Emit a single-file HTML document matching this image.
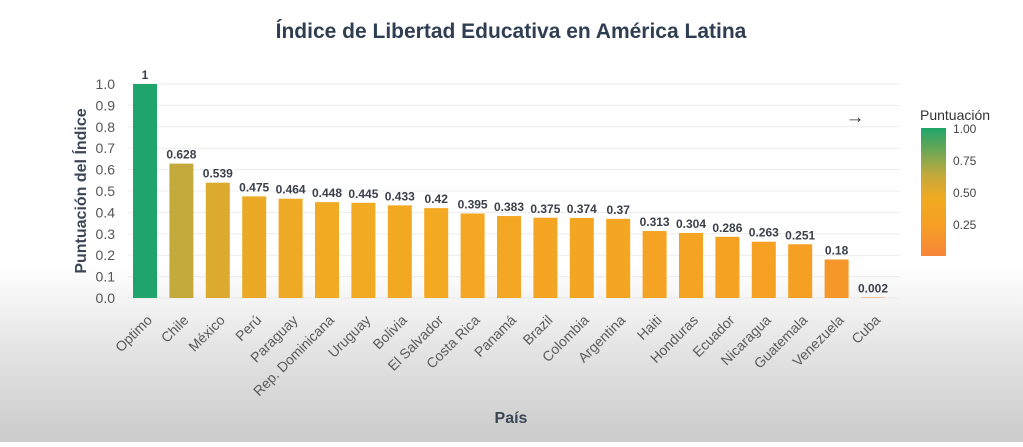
<!DOCTYPE html><html><head><meta charset="utf-8"><style>
body{margin:0;width:1023px;height:442px;overflow:hidden;background:linear-gradient(to bottom,#fff 0,#fff 265px,#e4e4e4 350px,#cbcbcb 442px);font-family:"Liberation Sans",sans-serif}
</style></head><body>
<svg id="s" width="1023" height="442" xmlns="http://www.w3.org/2000/svg" font-family="Liberation Sans, sans-serif">
<defs><linearGradient id="cb" x1="0" y1="1" x2="0" y2="0">
<stop offset="0" stop-color="#f7853a"/><stop offset="0.25" stop-color="#f6a023"/><stop offset="0.45" stop-color="#f2aa22"/><stop offset="0.63" stop-color="#c3a93c"/><stop offset="1" stop-color="#1fa56b"/></linearGradient></defs>
<text x="511" y="38" text-anchor="middle" font-size="21" font-weight="bold" fill="#2f3e52">Índice de Libertad Educativa en América Latina</text>
<text transform="translate(86,191) rotate(-90)" text-anchor="middle" font-size="16" font-weight="bold" fill="#3a4556">Puntuación del Índice</text>
<text x="511" y="423" text-anchor="middle" font-size="16" font-weight="bold" fill="#3a4556">País</text>
<text x="855" y="123" text-anchor="middle" font-size="19" fill="#333">→</text>
<rect x="921" y="128" width="25" height="128" fill="url(#cb)"/>
<text x="920" y="120" font-size="14" fill="#333">Puntuación</text>
<g font-size="12" fill="#444"><text x="953" y="133">1.00</text><text x="953" y="165">0.75</text><text x="953" y="197">0.50</text><text x="953" y="229">0.25</text></g>
<g id="g"></g>
</svg>
<script>
var d=[["Optimo",1],["Chile",0.628],["México",0.539],["Perú",0.475],["Paraguay",0.464],["Rep. Dominicana",0.448],["Uruguay",0.445],["Bolivia",0.433],["El Salvador",0.42],["Costa Rica",0.395],["Panamá",0.383],["Brazil",0.375],["Colombia",0.374],["Argentina",0.37],["Haiti",0.313],["Honduras",0.304],["Ecuador",0.286],["Nicaragua",0.263],["Guatemala",0.251],["Venezuela",0.18],["Cuba",0.002]];
var st=[[0,[247,133,58]],[0.25,[246,160,35]],[0.45,[242,170,34]],[0.63,[195,169,60]],[1,[31,165,107]]];
function col(v){for(var i=1;i<st.length;i++){if(v<=st[i][0]){var a=st[i-1],b=st[i],t=(v-a[0])/(b[0]-a[0]);return"rgb("+a[1].map(function(c,k){return Math.round(c+(b[1][k]-c)*t)}).join(",")+")";}}}
var h="",y0=298,k=214;
for(var i=0;i<=10;i++){var y=y0-k*i/10;h+='<line x1="128" x2="900" y1="'+y+'" y2="'+y+'" stroke="#ececec"/>';h+='<text x="115" y="'+(y+5)+'" text-anchor="end" font-size="14" fill="#555">'+(i/10).toFixed(1)+'</text>';}
d.forEach(function(e,i){var cx=145+i*36.4,hh=e[1]*k;h+='<rect x="'+(cx-12)+'" y="'+(y0-hh)+'" width="24" height="'+hh+'" fill="'+col(e[1])+'"/>';
h+='<text x="'+cx+'" y="'+(y0-hh-5)+'" text-anchor="middle" font-size="12" font-weight="bold" fill="#3a3f4a">'+e[1]+'</text>';
h+='<text transform="translate('+(cx+8)+',321) rotate(-45)" text-anchor="end" font-size="14" fill="#5a5a5a">'+e[0]+'</text>';});
document.getElementById("g").innerHTML=h;
</script>
</body></html>
